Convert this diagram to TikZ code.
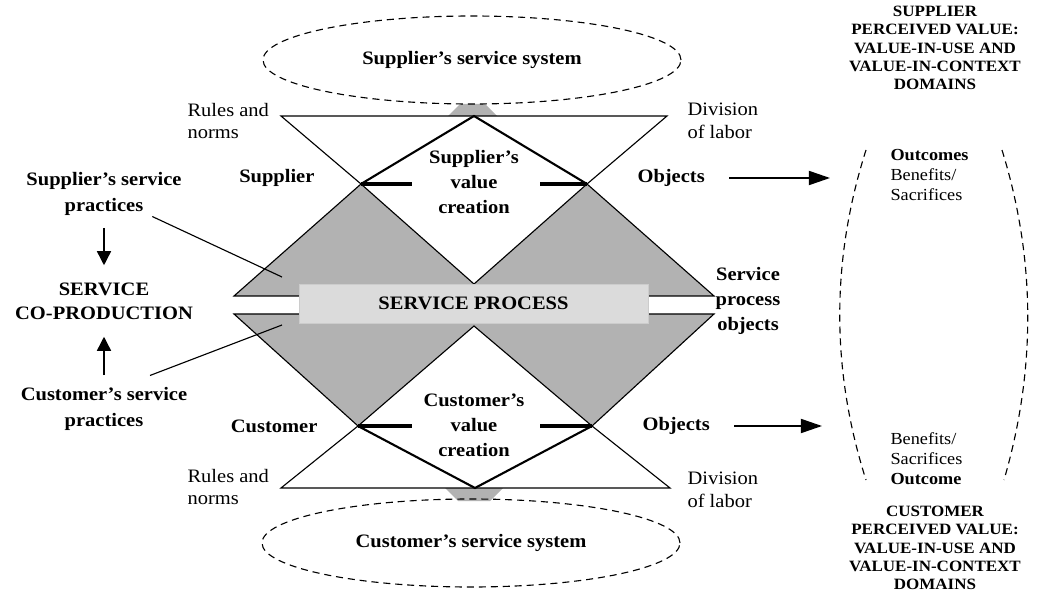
\documentclass[tikz,border=0pt]{standalone}
\usepackage{fontspec}
\setmainfont{Liberation Serif}[FakeStretch=1.08]
\usetikzlibrary{arrows.meta,shapes.geometric}
\definecolor{fillgray}{gray}{0.70}
\definecolor{boxgray}{gray}{0.86}
\tikzset{every node/.style={inner sep=0pt,font=\fontsize{13.5}{16}\selectfont}}
\tikzset{hd/.style={align=center,font=\fontsize{13.5}{17.8}\selectfont\bfseries}}
\tikzset{caps/.style={align=center,font=\fontsize{11.2}{13}\selectfont\bfseries}}
\tikzset{res/.style={align=left,font=\fontsize{12}{14.2}\selectfont}}
\tikzset{sys/.style={ellipse,draw,dash pattern=on 5pt off 3.5pt,line width=0.8pt,minimum width=104.5mm,minimum height=22mm,font=\fontsize{13.5}{16}\selectfont\bfseries}}
\tikzset{shade/.style={fill=fillgray,draw,line width=0.8pt}}
\tikzset{vline/.style={line width=1.5pt}}
\tikzset{bar/.style={line width=3pt}}
\tikzset{arr/.style={-{Triangle[length=15pt,width=10pt]},line width=1.2pt}}
\tikzset{varr/.style={-{Triangle[length=10pt,width=10pt]},line width=1pt}}

\begin{document}
\begin{tikzpicture}[x=0.25mm,y=-0.25mm,line width=0.8pt]
      \useasboundingbox (0,0) rectangle (1045,597);
      % grey halves of the service process
      \draw[shade] (234,296) -- (361,184) -- (474,284) -- (587,184) -- (714,296) -- cycle;
      \draw[shade] (234,314) -- (358,426) -- (474,326) -- (592,426) -- (714,314) -- cycle;
      \fill[fillgray] (448,116) -- (460,104) -- (485,104) -- (497,116) -- cycle;
      \fill[fillgray] (445,488) -- (458,501) -- (490,501) -- (503,488) -- cycle;
      % activity triangles
      \draw (361,184) -- (281,116) -- (667,116) -- (587,184);
      \draw (358,426) -- (281,488) -- (670,488) -- (592,426);
      \draw[vline] (361,184) -- (474,116) -- (587,184);
      \draw[vline] (358,426) -- (475,488) -- (592,426);
      \draw[bar] (361,184) -- (412,184);
      \draw[bar] (540,184) -- (587,184);
      \draw[bar] (358,426) -- (412,426);
      \draw[bar] (540,426) -- (592,426);

      \node[sys] (supsys) at (472,60) {Supplier’s service system};
      \node[sys] (cussys) at (471,543) {Customer’s service system};
      \node[fill=boxgray,draw=black!20,line width=0.6pt,minimum width=87.25mm,minimum height=9.75mm,font=\fontsize{13.5}{16}\selectfont\bfseries] (proc) at (473.5,303.5) {SERVICE PROCESS};

      \node[hd] (supval) at (474,182) {Supplier’s\\value\\creation};
      \node[hd] (cusval) at (474,425) {Customer’s\\value\\creation};
      \node[hd,anchor=east] (sup) at (315,178) {Supplier};
      \node[hd,anchor=west] (objS) at (637,178) {Objects};
      \node[hd,anchor=east] (cus) at (318,426) {Customer};
      \node[hd,anchor=west] (objC) at (642,426) {Objects};
      \node[align=left,anchor=west] (rulS) at (187,121) {Rules and\\norms};
      \node[align=left,anchor=west] (divS) at (687,121) {Division\\of labor};
      \node[align=left,anchor=west] (rulC) at (187,487) {Rules and\\norms};
      \node[align=left,anchor=west] (divC) at (687,490) {Division\\of labor};
      \node[hd] (spo) at (748,301) {Service\\process\\objects};

      \node[hd,font=\fontsize{13.5}{19}\selectfont\bfseries] (sp) at (104,194) {Supplier’s service\\practices};
      \node[hd,font=\fontsize{13.5}{17}\selectfont\bfseries] (cop) at (104,301) {SERVICE\\CO-PRODUCTION};
      \node[hd,font=\fontsize{13.5}{19}\selectfont\bfseries] (cp) at (104,409) {Customer’s service\\practices};

      \node[caps] (supper) at (935,48) {SUPPLIER\\PERCEIVED VALUE:\\VALUE-IN-USE AND\\VALUE-IN-CONTEXT\\DOMAINS};
      \node[caps] (cusper) at (935,548) {CUSTOMER\\PERCEIVED VALUE:\\VALUE-IN-USE AND\\VALUE-IN-CONTEXT\\DOMAINS};
      \node[res,anchor=west] (outS) at (890,175) {\textbf{Outcomes}\\Benefits/\\Sacrifices};
      \node[res,anchor=west] (outC) at (890,459) {Benefits/\\Sacrifices\\\textbf{Outcome}};

      \coordinate (tipS) at (830,178);
      \coordinate (tipC) at (822,426);
      \coordinate (inS) at (282,277);
      \coordinate (inC) at (282,325);
        \draw[arr,shorten <=17pt] (objS) -- (tipS);
        \draw[arr,shorten <=17pt] (objC) -- (tipC);
        \draw[varr,shorten <=8pt,shorten >=12pt] (sp) -- (cop);
        \draw[varr,shorten <=8pt,shorten >=12pt] (cp) -- (cop);
        \draw (sp) -- (inS);
        \draw ([shift={(46,-11)}]cp.north) -- (inC);
      % value domain
      \draw[dash pattern=on 5pt off 3.5pt] (866,150) .. controls (831,260) and (831,370) .. (866,480);
      \draw[dash pattern=on 5pt off 3.5pt] (1002,150) .. controls (1036,260) and (1036,370) .. (1004,480);
    \end{tikzpicture}
\end{document}
